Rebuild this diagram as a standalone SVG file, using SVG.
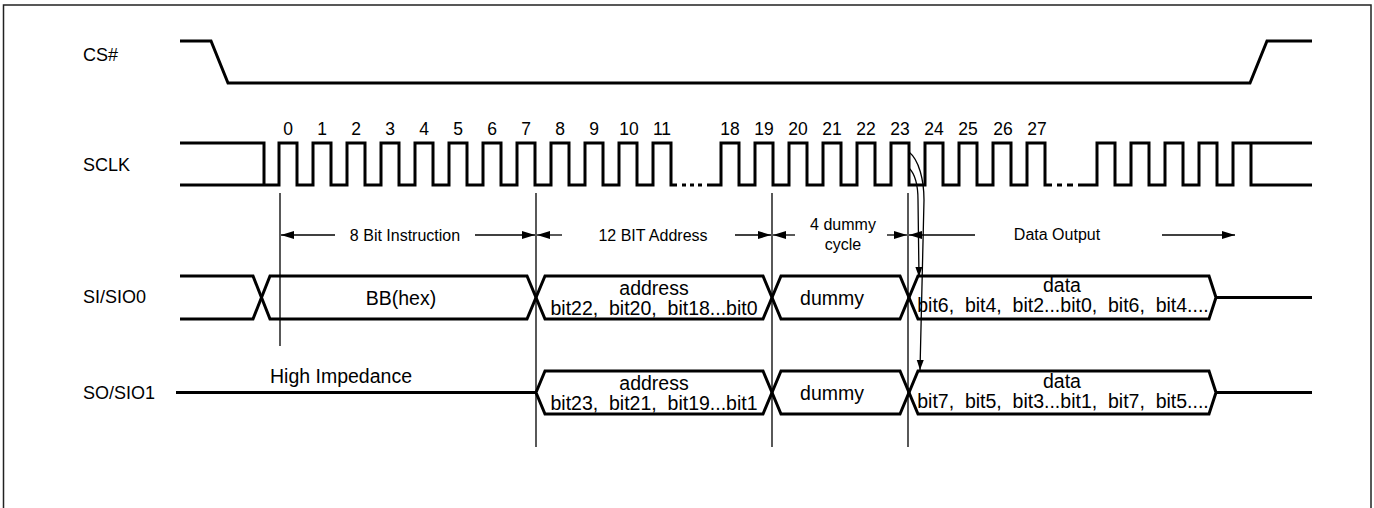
<svg xmlns="http://www.w3.org/2000/svg" width="1374" height="508" viewBox="0 0 1374 508">
<defs>
<style>
.sig{fill:none;stroke:#000;stroke-width:3;stroke-linejoin:miter;stroke-linecap:butt}
.thin{fill:none;stroke:#000;stroke-width:1.3}
.lbl{font-family:"Liberation Sans",Arial,sans-serif;font-size:18px;fill:#000}
.num{font-family:"Liberation Sans",Arial,sans-serif;font-size:17.5px;fill:#000;text-anchor:middle}
.box{font-family:"Liberation Sans",Arial,sans-serif;font-size:19.5px;fill:#000;text-anchor:middle}
.dim{font-family:"Liberation Sans",Arial,sans-serif;font-size:16px;fill:#000;text-anchor:middle}
</style>
<marker id="ah" markerUnits="userSpaceOnUse" markerWidth="14" markerHeight="9" refX="13" refY="4" orient="auto">
<path d="M0,0 L13,4 L0,8 z" fill="#000"/>
</marker>
<marker id="ahs" markerUnits="userSpaceOnUse" markerWidth="11" markerHeight="8" refX="10" refY="3.5" orient="auto">
<path d="M0,0 L10,3.5 L0,7 z" fill="#000"/>
</marker>
</defs>
<rect x="3.5" y="5" width="1367.5" height="530" fill="#fff" stroke="#222" stroke-width="1.5"/>

<g id="labels">
<text class="lbl" x="83" y="61">CS#</text>
<text class="lbl" x="83" y="171">SCLK</text>
<text class="lbl" x="83" y="303">SI/SIO0</text>
<text class="lbl" x="83" y="399">SO/SIO1</text>
</g>

<g id="cs">
<path class="sig" d="M180,41 H211 L228,83 H1250 L1267,41 H1312"/>
</g>

<g id="sclk">
<path class="sig" d="M180,143 H264 V185 M180,185 H279 V143 H297 V185 H313 V143 H331 V185 H347 V143 H365 V185 H381 V143 H399 V185 H415 V143 H433 V185 H449 V143 H467 V185 H483 V143 H501 V185 H517 V143 H535 V185 H551 V143 H569 V185 H585 V143 H603 V185 H619 V143 H637 V185 H653 V143 H671 V185 H677 M682,185 H686 M690,185 H694 M698,185 H702 M707,185 H721 V143 H739 V185 H755 V143 H773 V185 H789 V143 H807 V185 H823 V143 H841 V185 H857 V143 H875 V185 H891 V143 H909 V185 H925 V143 H943 V185 H959 V143 H977 V185 H993 V143 H1011 V185 H1027 V143 H1045 V185 H1052 M1057,185 H1062 M1067,185 H1073 M1078,185 H1097 V143 H1115 V185 H1131 V143 H1149 V185 H1165 V143 H1183 V185 H1199 V143 H1217 V185 H1233 V143 H1312 M1251,143 V185 H1312"/>
<text class="num" x="288" y="135">0</text>
<text class="num" x="322" y="135">1</text>
<text class="num" x="356" y="135">2</text>
<text class="num" x="390" y="135">3</text>
<text class="num" x="424" y="135">4</text>
<text class="num" x="458" y="135">5</text>
<text class="num" x="492" y="135">6</text>
<text class="num" x="526" y="135">7</text>
<text class="num" x="560" y="135">8</text>
<text class="num" x="594" y="135">9</text>
<text class="num" x="629" y="135">10</text>
<text class="num" x="662" y="135">11</text>
<text class="num" x="730" y="135">18</text>
<text class="num" x="764" y="135">19</text>
<text class="num" x="798" y="135">20</text>
<text class="num" x="832" y="135">21</text>
<text class="num" x="866" y="135">22</text>
<text class="num" x="900" y="135">23</text>
<text class="num" x="934" y="135">24</text>
<text class="num" x="968" y="135">25</text>
<text class="num" x="1003" y="135">26</text>
<text class="num" x="1037" y="135">27</text>
</g>

<g id="si">
<path class="sig" d="M180,276 H253 L261.5,297.5 L253,319 H180"/>
<path class="sig" d="M261.5,297.5 L270,276 H527 L536,297.5 L527,319 H270 Z"/>
<path class="sig" d="M536,297.5 L545,276 H763 L772,297.5 L763,319 H545 Z"/>
<path class="sig" d="M772,297.5 L781,276 H900 L909,297.5 L900,319 H781 Z"/>
<path class="sig" d="M909,297.5 L918,276 H1209 L1216,297.5 L1209,319 H918 Z M1216,297.5 H1312"/>
<text class="box" x="401" y="305">BB(hex)</text>
<text class="box" x="654" y="295">address</text>
<text class="box" x="654" y="315">bit22,&#160; bit20,&#160; bit18...bit0</text>
<text class="box" x="832" y="305">dummy</text>
<text class="box" x="1062" y="292">data</text>
<text class="box" x="1063" y="312">bit6,&#160; bit4,&#160; bit2...bit0,&#160; bit6,&#160; bit4....</text>
</g>

<g id="so">
<path class="sig" d="M176,392.5 H536"/>
<path class="sig" d="M536,392.5 L545,371 H763 L772,392.5 L763,414 H545 Z"/>
<path class="sig" d="M772,392.5 L781,371 H900 L909,392.5 L900,414 H781 Z"/>
<path class="sig" d="M909,392.5 L918,371 H1209 L1216,392.5 L1209,414 H918 Z M1216,392.5 H1312"/>
<text class="box" x="341" y="383">High Impedance</text>
<text class="box" x="654" y="390">address</text>
<text class="box" x="654" y="410">bit23,&#160; bit21,&#160; bit19...bit1</text>
<text class="box" x="832" y="400">dummy</text>
<text class="box" x="1062" y="388">data</text>
<text class="box" x="1063" y="408">bit7,&#160; bit5,&#160; bit3...bit1,&#160; bit7,&#160; bit5....</text>
</g>

<g id="connectors">
<path class="thin" d="M280,193 V346 M536,193 V447 M772,193 V447 M908,193 V447"/>
<path class="thin" d="M335,235 H281" marker-end="url(#ah)"/>
<path class="thin" d="M475,235 H535" marker-end="url(#ah)"/>
<path class="thin" d="M562,235 H537" marker-end="url(#ah)"/>
<path class="thin" d="M735,235 H771" marker-end="url(#ah)"/>
<path class="thin" d="M795,235 H773" marker-end="url(#ah)"/>
<path class="thin" d="M887,235 H907" marker-end="url(#ah)"/>
<path class="thin" d="M975,235 H909" marker-end="url(#ah)"/>
<path class="thin" d="M1162,235 H1235" marker-end="url(#ah)"/>
<path class="thin" d="M909,152 C919,160 924,180 924,200 L920,370" marker-end="url(#ahs)"/>
<path class="thin" d="M909,168 C915,174 918,186 918,200 L919,277" marker-end="url(#ahs)"/>
<text class="dim" x="405" y="241">8 Bit Instruction</text>
<text class="dim" x="653" y="241">12 BIT Address</text>
<text class="dim" x="843" y="230">4 dummy</text>
<text class="dim" x="843" y="250">cycle</text>
<text class="dim" x="1057" y="240">Data Output</text>
</g>
</svg>
